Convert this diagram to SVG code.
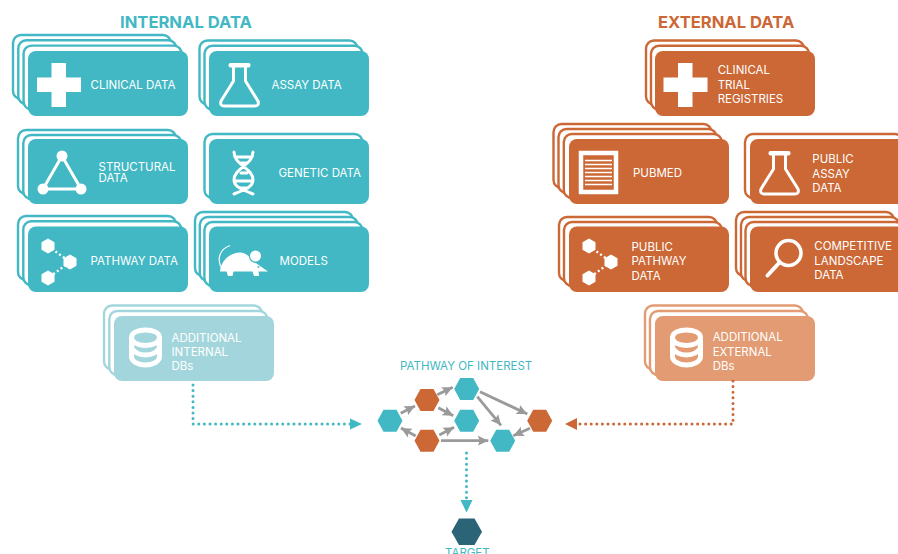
<svg xmlns="http://www.w3.org/2000/svg" width="898" height="554" viewBox="0 0 898 554">
<style>
text{font-family:"Inter","Liberation Sans",sans-serif;font-size:11.5px;fill:#fff}
.title{font-size:16.6px;font-weight:700}
.b{fill:#fff;stroke-width:2.4}
.teal .b{stroke:#41b8c4}.teal .m{fill:#41b8c4}
.orange .b{stroke:#cc6835}.orange .m{fill:#cc6835}
.lteal .b{stroke:#a3d6dc}.lteal .m{fill:#a3d6dc}
.lorange .b{stroke:#e29b72}.lorange .m{fill:#e29b72}
.w{fill:#fff}
.sw{fill:none;stroke:#fff;stroke-width:3;stroke-linejoin:round;stroke-linecap:round}
.arr{stroke:#9b9a9b;stroke-width:2.8;fill:none;marker-end:url(#ga)}
.dot{fill:none;stroke-width:3;stroke-linecap:round;stroke-dasharray:0 5.6}
</style>
<defs>
<marker id="ga" markerUnits="userSpaceOnUse" markerWidth="12" markerHeight="12" refX="10.500" refY="5.500" orient="auto"><path d="M0 0.500L10.500 5.500L0 10.500L2 5.500Z" fill="#9b9a9b"/></marker>
<path id="hex" d="M-12.500 0L-6.500-11H6.500L12.500 0L6.500 11H-6.500Z"/>
<g id="cross"><path class="w" d="M14.500 0H29V14.500H44V29H29V44H14.500V29H0V14.500H14.500Z"/></g>
<g id="flask"><rect class="w" x="9" y="0" width="22" height="4.500" rx="2"/><path class="sw" d="M14 4V18L1.500 38Q0 43 5 43H35Q40 43 38.500 38L26 18V4"/></g>
<g id="path"><path d="M0 0L22 16L0 32" fill="none" stroke="#fff" stroke-width="2.400" stroke-dasharray="2 2.600"/><path class="w" d="M0-7.500L6.500-3.800V3.800L0 7.500L-6.500 3.800V-3.800Z"/><path class="w" transform="translate(22 16)" d="M0-7.500L6.500-3.800V3.800L0 7.500L-6.500 3.800V-3.800Z"/><path class="w" transform="translate(0 32)" d="M0-7.500L6.500-3.800V3.800L0 7.500L-6.500 3.800V-3.800Z"/></g>
<g id="db"><path class="sw" style="stroke-width:5" d="M2.500 10C2.500 5 9 2.500 16.500 2.500S30.500 5 30.500 10V29C30.500 34 24 37.500 16.500 37.500S2.500 34 2.500 29ZM2.500 10C2.500 15 9 18 16.500 18S30.500 15 30.500 10M2.500 20C5 25 10 27.500 16.500 27.500S28 25 30.500 20"/></g>
</defs>
<text class="title" x="120" y="27.500" style="fill:#41b8c4">INTERNAL DATA</text>
<text class="title" x="658" y="27.500" style="fill:#cc6835">EXTERNAL DATA</text>

<g id="clinical-data" class="teal"><rect class="b" x="13" y="35" width="158" height="64" rx="8"/><rect class="b" x="18.300" y="40.300" width="158" height="64" rx="8"/><rect class="b" x="23.600" y="45.600" width="158" height="64" rx="8"/><rect class="m" x="28" y="51" width="160" height="65" rx="8"/><use href="#cross" x="37" y="63"/><text x="90.500" y="89">CLINICAL DATA</text></g>
<g id="assay-data" class="teal"><rect class="b" x="199.500" y="40.500" width="158" height="64" rx="8"/><rect class="b" x="204.500" y="45.800" width="158" height="64" rx="8"/><rect class="m" x="209" y="51" width="160" height="65" rx="8"/><use href="#flask" x="219.500" y="63"/><text x="271.500" y="89">ASSAY DATA</text></g>
<g id="structural-data" class="teal"><rect class="b" x="18" y="130" width="158" height="64" rx="8"/><rect class="b" x="23.300" y="135" width="158" height="64" rx="8"/><rect class="m" x="28" y="139" width="160" height="65" rx="8"/><path class="sw" d="M62 156L43 189H81Z"/><circle class="w" cx="62" cy="156" r="5.500"/><circle class="w" cx="43" cy="189" r="5.500"/><circle class="w" cx="81" cy="189" r="5.500"/><text x="98.500" y="170.700">STRUCTURAL<tspan x="98.500" y="182.300">DATA</tspan></text></g>
<g id="genetic-data" class="teal"><rect class="b" x="204.500" y="134" width="158" height="64" rx="8"/><rect class="m" x="209" y="139" width="160" height="65" rx="8"/><path class="sw" d="M234 152C234 165 253 168 253 180C253 186 247 189 234 194M253 152C253 165 234 168 234 180C234 186 240 189 253 194M236 157H251M241 163H247M241 173H247M236 181H251M240 188H248"/><text x="278.500" y="177">GENETIC DATA</text></g>
<g id="pathway-data" class="teal"><rect class="b" x="18" y="216" width="158" height="64" rx="8"/><rect class="b" x="23.300" y="221.300" width="158" height="64" rx="8"/><rect class="m" x="28" y="226.500" width="160" height="65.500" rx="8"/><use href="#path" x="48" y="246"/><text x="90.500" y="265">PATHWAY DATA</text></g>
<g id="models" class="teal"><rect class="b" x="195" y="212" width="158" height="64" rx="8"/><rect class="b" x="199.800" y="217" width="158" height="64" rx="8"/><rect class="b" x="204.400" y="222" width="158" height="64" rx="8"/><rect class="m" x="209" y="226.500" width="160" height="65.500" rx="8"/><path class="w" d="M220 271.500C221 260 231 252 241 252.500C247 253 250 258 253 261L268 271.500H258.500L259 276H254L252.500 271.500H233.500L232.500 276H228L226.500 271.500Z"/><circle cx="255.500" cy="256.500" r="6.500" fill="#41b8c4"/><circle class="w" cx="255.500" cy="256" r="5.500"/><circle cx="258.500" cy="267" r="0.900" fill="#41b8c4"/><path d="M222 269C216 259 220 249 230 245.500" fill="none" stroke="#fff" stroke-width="1.200"/><text x="279.500" y="265">MODELS</text></g>
<g id="additional-internal" class="lteal"><rect class="b" x="104" y="305.500" width="158" height="64" rx="8"/><rect class="b" x="109.300" y="311" width="158" height="64" rx="8"/><rect class="m" x="114" y="316" width="160" height="65" rx="8"/><use href="#db" x="129" y="327.500"/><text x="171.500" y="341.700">ADDITIONAL</text><text x="171.500" y="356">INTERNAL</text><text x="171.500" y="370.300">DBs</text></g>

<g id="clinical-trial" class="orange"><rect class="b" x="646" y="40.500" width="158" height="64" rx="8"/><rect class="b" x="651" y="45.800" width="158" height="64" rx="8"/><rect class="m" x="655" y="51" width="160" height="65" rx="8"/><use href="#cross" x="663.500" y="63"/><text x="717.700" y="74">CLINICAL</text><text x="717.700" y="88.700">TRIAL</text><text x="717.700" y="103">REGISTRIES</text></g>
<g id="pubmed" class="orange"><rect class="b" x="553.500" y="124" width="158" height="64" rx="8"/><rect class="b" x="558.500" y="129" width="158" height="64" rx="8"/><rect class="b" x="563.800" y="134" width="158" height="64" rx="8"/><rect class="m" x="569" y="139" width="160" height="65" rx="8"/><rect x="581" y="153" width="35" height="39" fill="none" stroke="#fff" stroke-width="4.500"/><path d="M585 160.500H612M585 164.500H612M585 168.500H612M585 172.500H612M585 176.500H612M585 180.500H612M585 184.500H612" stroke="#fff" stroke-width="1.500"/><text x="633" y="176.700">PUBMED</text></g>
<g id="public-assay" class="orange"><rect class="b" x="745" y="134" width="158" height="64" rx="8"/><rect class="m" x="750" y="139" width="160" height="65" rx="8"/><use href="#flask" x="759.500" y="151"/><text x="812.300" y="163.300">PUBLIC</text><text x="812.300" y="177.700">ASSAY</text><text x="812.300" y="192">DATA</text></g>
<g id="public-pathway" class="orange"><rect class="b" x="559" y="217" width="158" height="64" rx="8"/><rect class="b" x="564" y="222" width="158" height="64" rx="8"/><rect class="m" x="569" y="226.500" width="160" height="65.500" rx="8"/><use href="#path" x="589" y="246"/><text x="631.500" y="251">PUBLIC</text><text x="631.500" y="265.300">PATHWAY</text><text x="631.500" y="279.700">DATA</text></g>
<g id="competitive-landscape" class="orange"><rect class="b" x="736" y="212" width="158" height="64" rx="8"/><rect class="b" x="741" y="217" width="158" height="64" rx="8"/><rect class="b" x="745.500" y="222" width="158" height="64" rx="8"/><rect class="m" x="750" y="226.500" width="160" height="65.500" rx="8"/><circle cx="788.500" cy="253" r="12.500" fill="none" stroke="#fff" stroke-width="3.500"/><path d="M779 263L767.500 275.500" stroke="#fff" stroke-width="4" stroke-linecap="round"/><text x="814.300" y="250.300">COMPETITIVE</text><text x="814.300" y="264.700">LANDSCAPE</text><text x="814.300" y="279">DATA</text></g>
<g id="additional-external" class="lorange"><rect class="b" x="645" y="305.500" width="158" height="64" rx="8"/><rect class="b" x="650" y="311" width="158" height="64" rx="8"/><rect class="m" x="655" y="316" width="160" height="65" rx="8"/><use href="#db" x="670" y="327.500"/><text x="712.700" y="341.300">ADDITIONAL</text><text x="712.700" y="356">EXTERNAL</text><text x="712.700" y="370">DBs</text></g>

<text id="pathway-label" x="400" y="370" style="fill:#41b8c4">PATHWAY OF INTEREST</text>

<g id="connectors">
<path class="dot" stroke="#41b8c4" d="M193 385V424H350"/>
<path d="M350 418.500L362 424L350 429.500Z" fill="#41b8c4"/>
<path class="dot" stroke="#cc6835" d="M733 381V424H578"/>
<path d="M577 418L565 424L577 430Z" fill="#cc6835"/>
<path class="dot" stroke="#41b8c4" d="M466.500 453V498"/>
<path d="M460.500 500H472.500L466.500 512.500Z" fill="#41b8c4"/>
<path class="arr" d="M400.700 413.300L415 406"/>
<path class="arr" d="M437.300 394.700L452.700 387.300"/>
<path class="arr" d="M438.300 407.700L453.300 415.700"/>
<path class="arr" d="M415.700 436L401 428"/>
<path class="arr" d="M439.300 435L454 427.300"/>
<path class="arr" d="M441 440.700H488.300"/>
<path class="arr" d="M480 391.700L527.300 414"/>
<path class="arr" d="M477.300 396.700L501 425.300"/>
<path class="arr" d="M530 428.300L513.300 435.700"/>
</g>

<g id="hex-1"><use href="#hex" x="390" y="420.700" fill="#41b8c4"/></g>
<g id="hex-2"><use href="#hex" x="427" y="400" fill="#cc6835"/></g>
<g id="hex-3"><use href="#hex" x="466.700" y="389" fill="#41b8c4"/></g>
<g id="hex-4"><use href="#hex" x="466.700" y="420.700" fill="#41b8c4"/></g>
<g id="hex-5"><use href="#hex" x="427" y="440.700" fill="#cc6835"/></g>
<g id="hex-6"><use href="#hex" x="502.700" y="440.700" fill="#41b8c4"/></g>
<g id="hex-7"><use href="#hex" x="539.700" y="420.700" fill="#cc6835"/></g>
<g id="target"><path d="M451.500 531.700L459 518.500H474.500L482 531.700L474.500 545H459Z" fill="#2b6377"/><text x="445" y="556.500" style="fill:#41b8c4">TARGET</text></g>
</svg>
